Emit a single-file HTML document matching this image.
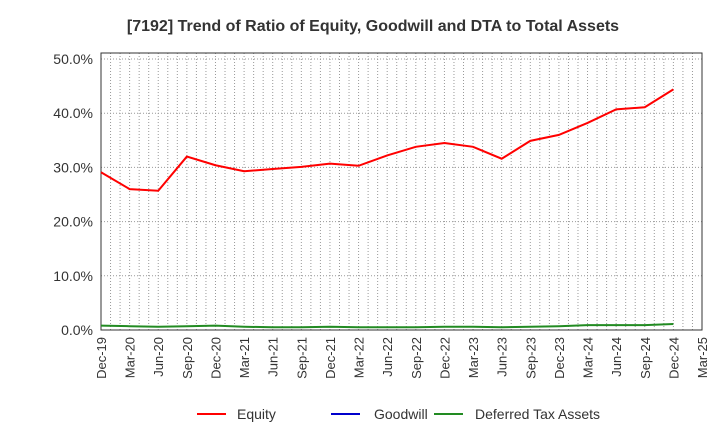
<!DOCTYPE html>
<html><head><meta charset="utf-8"><style>
body{margin:0;background:#fff;font-family:"Liberation Sans",Arial,sans-serif;}
svg text{font-family:"Liberation Sans",Arial,sans-serif;}
</style></head><body>
<svg id="chart" width="720" height="440" xmlns="http://www.w3.org/2000/svg">
<text x="373" y="31" text-anchor="middle" font-size="16" font-weight="bold" fill="#333">[7192]  Trend of Ratio of Equity, Goodwill and DTA to Total Assets</text>
<g id="grid"></g><g id="axes"></g><g id="series"></g>
<g>
<line x1="197" y1="414" x2="226" y2="414" stroke="#ff0000" stroke-width="2"/>
<text x="237" y="419" font-size="14" fill="#333">Equity</text>
<line x1="331" y1="414" x2="360" y2="414" stroke="#0000cc" stroke-width="2"/>
<text x="374" y="419" font-size="14" fill="#333">Goodwill</text>
<line x1="434" y1="414" x2="463" y2="414" stroke="#228b22" stroke-width="2"/>
<text x="475" y="419" font-size="14" fill="#333">Deferred Tax Assets</text>
</g>
</svg>
<script>
const xLabels=["Dec-19","Mar-20","Jun-20","Sep-20","Dec-20","Mar-21","Jun-21","Sep-21","Dec-21","Mar-22","Jun-22","Sep-22","Dec-22","Mar-23","Jun-23","Sep-23","Dec-23","Mar-24","Jun-24","Sep-24","Dec-24","Mar-25"];
const yTicks=[0,10,20,30,40,50];
const equity=[29.1,26.0,25.7,32.0,30.4,29.3,29.7,30.1,30.7,30.3,32.2,33.8,34.5,33.8,31.6,34.9,36.0,38.2,40.7,41.1,44.4];
const goodwill=[];
const dta=[0.8,0.7,0.6,0.7,0.8,0.6,0.5,0.5,0.6,0.5,0.5,0.5,0.6,0.6,0.5,0.6,0.7,0.9,0.9,0.9,1.1];
const L=101,R=702,T=53,B=330,months=63;
const xm=m=>L+(R-L)*m/months;
const xq=i=>xm(i*3);
const y=v=>B-(B-59)*v/50;
const NS="http://www.w3.org/2000/svg";
function mk(tag,attrs,parent){const e=document.createElementNS(NS,tag);for(const k in attrs)e.setAttribute(k,attrs[k]);parent.appendChild(e);return e;}
const grid=document.getElementById('grid'),axes=document.getElementById('axes'),ser=document.getElementById('series');
for(let m=1;m<months;m++){const gl=mk('line',{x1:xm(m),x2:xm(m),y1:T,y2:B,stroke:'#999','stroke-width':1,'stroke-dasharray':'1,2'},grid);

}
yTicks.forEach(v=>{const gl=mk('line',{x1:L,x2:R,y1:y(v),y2:y(v),stroke:'#999','stroke-width':1,'stroke-dasharray':'1,2'},grid);


const t=mk('text',{x:L-8,y:y(v)+5,'text-anchor':'end','font-size':14,fill:'#333'},axes);t.textContent=v.toFixed(1)+'%';

});
const fr=mk('rect',{x:L,y:T,width:R-L,height:B-T,fill:'none',stroke:'#333','stroke-width':1},axes);


xLabels.forEach((s,i)=>{const x=xq(i);const t=mk('text',{transform:`translate(${x+5},${B+7}) rotate(-90)`,'text-anchor':'end','font-size':13,fill:'#333'},axes);t.textContent=s;

});
function line(vals,color,name){if(!vals.length)return;const p=mk('polyline',{points:vals.map((v,i)=>xq(i)+','+y(v)).join(' '),fill:'none',stroke:color,'stroke-width':2},ser);

}
line(dta,'#228b22','dta-line');
line(goodwill,'#0000cc','goodwill-line');
line(equity,'#ff0000','equity-line');
</script>
</body></html>
